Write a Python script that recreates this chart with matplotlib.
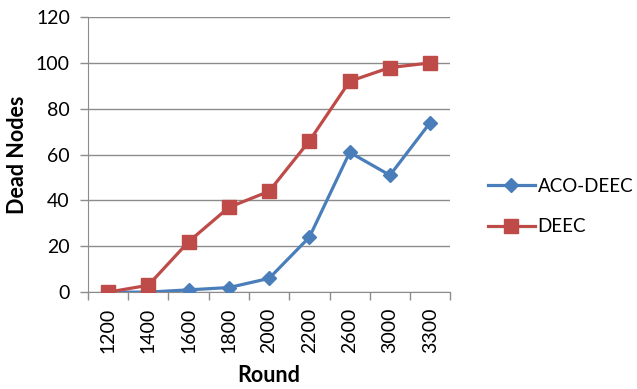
import numpy as np
import matplotlib.pyplot as plt

plt.rcParams['font.family'] = ['Lato', 'DejaVu Sans']

rounds = ['1200', '1400', '1600', '1800', '2000', '2200', '2600', '3000', '3300']
aco_deec = [0, 0, 1, 2, 6, 24, 61, 51, 74]
deec = [0, 3, 22, 37, 44, 66, 92, 98, 100]

fig = plt.figure(figsize=(6.37, 3.89), dpi=100)
ax = fig.add_axes([0.138, 0.249, 0.569, 0.707])

x = np.arange(len(rounds))
ax.plot(x, aco_deec, color='#4A7EBB', lw=2.3, marker='D', ms=7.5, label='ACO-DEEC', zorder=3)
ax.plot(x, deec, color='#BE4B48', lw=2.3, marker='s', ms=10, label='DEEC', zorder=4)

ax.set_xlim(-0.5, len(rounds) - 0.5)
ax.set_ylim(0, 120)
ax.set_yticks(range(0, 121, 20))
ax.grid(axis='y', color='#8c8c8c', lw=1)
ax.set_axisbelow(True)

# category labels in the middle, tick marks on the boundaries
ax.set_xticks(x)
ax.set_xticklabels(rounds, rotation=90, fontsize=14)
ax.set_xticks(np.arange(-0.5, len(rounds)), minor=True)
ax.tick_params(axis='x', which='major', length=0, pad=11)
ax.tick_params(axis='x', which='minor', length=6, color='#8c8c8c', width=1)
ax.tick_params(axis='y', length=6, color='#8c8c8c', width=1, labelsize=14, pad=7)

for side in ['top', 'right']:
    ax.spines[side].set_visible(False)
for side in ['left', 'bottom']:
    ax.spines[side].set_color('#8c8c8c')

ax.set_xlabel('Round', fontsize=15.5, fontweight='bold', labelpad=9)
ax.set_ylabel('Dead Nodes', fontsize=15.5, fontweight='bold', labelpad=6)

fig.legend(loc='center left', bbox_to_anchor=(0.766, 0.469), frameon=False,
           borderpad=0, borderaxespad=0, fontsize=13.5, handlelength=2.5,
           labelspacing=1.25, handletextpad=0.15)

fig.savefig('out.png', dpi=100)
